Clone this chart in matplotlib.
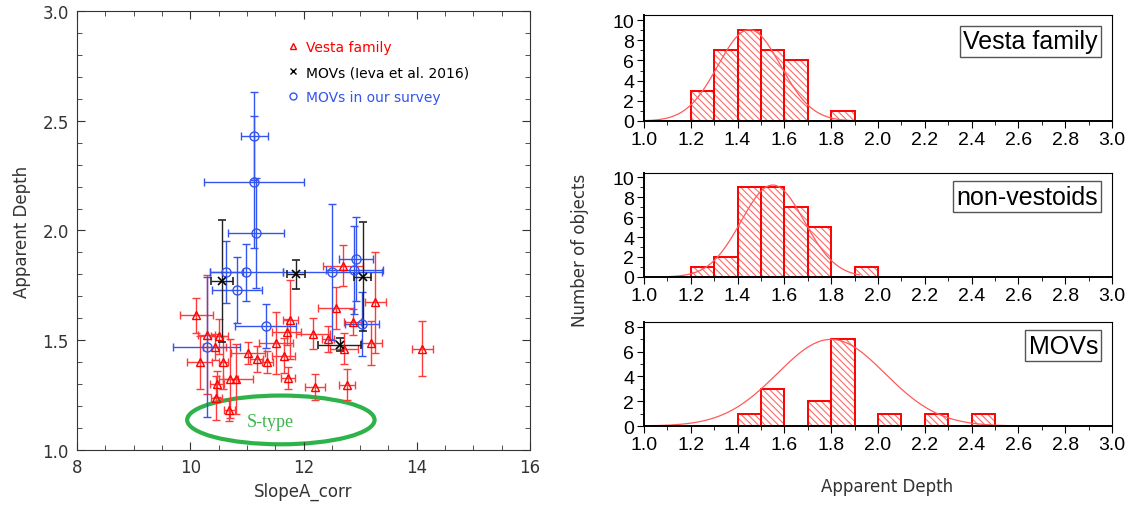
import numpy as np
import matplotlib.pyplot as plt
from matplotlib.patches import Ellipse
from matplotlib.lines import Line2D
from matplotlib.ticker import MultipleLocator, FormatStrFormatter

plt.rcParams['hatch.linewidth'] = 0.8

# ---- left panel: apparent depth vs corrected slope ----
vesta_x = [10.11, 10.29, 10.51, 10.43, 10.17, 10.58, 10.47, 10.71, 10.80, 10.46,
           10.69, 11.02, 11.17, 11.36, 11.52, 11.70, 11.77, 11.65, 11.73, 12.20,
           12.77, 12.16, 12.43, 12.58, 12.70, 12.87, 12.71, 13.20, 13.27, 14.10]
vesta_y = [1.613, 1.525, 1.519, 1.469, 1.400, 1.400, 1.300, 1.324, 1.324, 1.236,
           1.183, 1.443, 1.416, 1.400, 1.487, 1.537, 1.594, 1.430, 1.327, 1.286,
           1.297, 1.530, 1.507, 1.647, 1.839, 1.583, 1.461, 1.489, 1.674, 1.461]
vesta_xerr = [0.30, 0.15, 0.15, 0.20, 0.22, 0.08, 0.12, 0.14, 0.30, 0.10,
              0.10, 0.30, 0.12, 0.10, 0.30, 0.25, 0.14, 0.20, 0.12, 0.18,
              0.14, 0.30, 0.10, 0.32, 0.35, 0.15, 0.25, 0.18, 0.19, 0.18]
vesta_yerr = [0.08, 0.27, 0.08, 0.06, 0.12, 0.12, 0.06, 0.18, 0.16, 0.10,
              0.05, 0.05, 0.06, 0.05, 0.14, 0.06, 0.18, 0.08, 0.05, 0.06,
              0.07, 0.07, 0.06, 0.095, 0.093, 0.06, 0.07, 0.10, 0.23, 0.125]

ieva_x = [10.56, 11.87, 13.05, 12.64]
ieva_y = [1.77, 1.80, 1.79, 1.48]
ieva_xerr = [0.19, 0.16, 0.15, 0.38]
ieva_yerr = [0.28, 0.065, 0.25, 0.03]

our_x = [11.13, 11.12, 11.16, 10.64, 10.99, 10.83, 11.33, 10.29, 12.51, 12.90, 12.92, 13.04]
our_y = [2.43, 2.22, 1.99, 1.81, 1.81, 1.73, 1.565, 1.47, 1.81, 1.82, 1.87, 1.575]
our_xerr = [0.24, 0.88, 0.50, 0.30, 0.64, 0.44, 0.54, 0.59, 0.88, 0.50, 0.30, 0.30]
our_yerr = [0.20, 0.30, 0.25, 0.14, 0.13, 0.15, 0.10, 0.32, 0.31, 0.20, 0.19, 0.145]

# ---- right panels: histograms of apparent depth ----
vesta_bins = [1.2, 1.3, 1.4, 1.5, 1.6, 1.8]
vesta_counts = [3, 7, 9, 7, 6, 1]
nonv_bins = [1.2, 1.3, 1.4, 1.5, 1.6, 1.7, 1.9]
nonv_counts = [1, 2, 9, 9, 7, 5, 1]
mov_bins = [1.4, 1.5, 1.7, 1.8, 2.0, 2.2, 2.4]
mov_counts = [1, 3, 2, 7, 1, 1, 1]

# gaussian fits: amplitude, mean, sigma, curve start, curve end
vesta_fit = [9.05, 1.45, 0.134, 1.0, 1.92]
nonv_fit = [9.2, 1.55, 0.135, 1.1, 1.92]
mov_fit = [7.0, 1.80, 0.23, 1.0, 2.58]

RED = '#ff0000'
BLUE = '#3355ee'
GRAY = '#333333'

fig = plt.figure(figsize=(11.31, 5.06), dpi=100)

ax = fig.add_axes([0.0681, 0.1087, 0.4005, 0.8676])
ax.errorbar(vesta_x, vesta_y, xerr=vesta_xerr, yerr=vesta_yerr, fmt='^', ms=6,
            mfc='none', mec=RED, mew=1.0, ecolor='#ff3a3a', elinewidth=1.0,
            capsize=3, capthick=1.0)
ax.errorbar(our_x, our_y, xerr=our_xerr, yerr=our_yerr, fmt='o', ms=6.5,
            mfc='none', mec=BLUE, mew=1.0, ecolor=BLUE, elinewidth=1.0,
            capsize=3, capthick=1.0)
ax.errorbar(ieva_x, ieva_y, xerr=ieva_xerr, yerr=ieva_yerr, fmt='x', ms=6,
            mec='black', mew=1.2, ecolor='#222222', elinewidth=1.0,
            capsize=3, capthick=1.0)

ax.add_patch(Ellipse((11.6, 1.137), 3.31, 0.222, fill=False, ec='#2db34a', lw=3))
ax.text(11.42, 1.13, 'S-type', color='#3cb44b', fontsize=13,
        family='Liberation Serif', ha='center', va='center')

ax.set_xlim(8, 16)
ax.set_ylim(1.0, 3.0)
ax.xaxis.set_major_locator(MultipleLocator(2))
ax.xaxis.set_minor_locator(MultipleLocator(0.5))
ax.yaxis.set_major_locator(MultipleLocator(0.5))
ax.yaxis.set_minor_locator(MultipleLocator(0.1))
ax.yaxis.set_major_formatter(FormatStrFormatter('%.1f'))
ax.tick_params(which='both', direction='in', top=True, right=True,
               colors=GRAY, labelsize=12, pad=6)
ax.tick_params(which='major', length=6)
ax.tick_params(which='minor', length=3.5)
for s in ax.spines.values():
    s.set_color(GRAY)
ax.set_xlabel('SlopeA_corr', fontsize=12, color=GRAY, labelpad=4)
ax.set_ylabel('Apparent Depth', fontsize=12, color=GRAY, labelpad=8)

handles = [Line2D([], [], ls='none', marker='^', ms=5, mfc='none', mec=RED),
           Line2D([], [], ls='none', marker='x', ms=5, mec='black'),
           Line2D([], [], ls='none', marker='o', ms=5, mfc='none', mec=BLUE)]
ax.legend(handles, ['Vesta family', 'MOVs (Ieva et al. 2016)', 'MOVs in our survey'],
          loc='upper left', bbox_to_anchor=(0.437, 0.962), frameon=False,
          handlelength=0.8, handletextpad=0.5, labelspacing=0.78, fontsize=10,
          labelcolor=[RED, 'black', BLUE])


def draw_hist(rect, bins, counts, fit, name, ymax, label_y):
    hax = fig.add_axes(rect)
    # hatch in a lighter red, outline in full red on top
    hax.bar(bins, counts, width=0.1, align='edge', fill=False, edgecolor='#ff6a6a',
            linewidth=0, hatch='\\\\\\\\\\')
    hax.bar(bins, counts, width=0.1, align='edge', fill=False, edgecolor=RED,
            linewidth=1.4)
    amp, mu, sig, x0, x1 = fit
    xs = np.linspace(x0, x1, 200)
    hax.plot(xs, amp * np.exp(-(xs - mu) ** 2 / (2 * sig ** 2)),
             color='#ff5a5a', lw=0.9)
    hax.set_xlim(1.0, 3.0)
    hax.set_ylim(0, ymax)
    hax.xaxis.set_major_locator(MultipleLocator(0.2))
    hax.xaxis.set_minor_locator(MultipleLocator(0.1))
    hax.xaxis.set_major_formatter(FormatStrFormatter('%.1f'))
    hax.yaxis.set_major_locator(MultipleLocator(2))
    hax.yaxis.set_minor_locator(MultipleLocator(1))
    hax.tick_params(which='both', direction='out', labelsize=14, pad=2)
    hax.tick_params(which='major', length=5)
    hax.tick_params(which='minor', length=3)
    hax.spines['bottom'].set_linewidth(1.4)
    hax.spines['left'].set_linewidth(1.4)
    hax.text(0.97, label_y, name, transform=hax.transAxes, ha='right', va='top',
             fontsize=18, family='Liberation Sans',
             bbox=dict(boxstyle='square,pad=0.14', fc='white', ec='#555555', lw=1))
    for lab in hax.get_xticklabels() + hax.get_yticklabels():
        lab.set_family('Liberation Sans')
    return hax


draw_hist([0.5694, 0.7589, 0.4138, 0.2095], vesta_bins, vesta_counts, vesta_fit,
          'Vesta family', 10.5, 0.865)
draw_hist([0.5694, 0.4506, 0.4138, 0.2055], nonv_bins, nonv_counts, nonv_fit,
          'non-vestoids', 10.4, 0.885)
draw_hist([0.5694, 0.1561, 0.4138, 0.2055], mov_bins, mov_counts, mov_fit,
          'MOVs', 8.4, 0.885)

fig.text(0.513, 0.505, 'Number of objects', rotation=90, fontsize=12,
         color=GRAY, ha='center', va='center')
fig.text(0.784, 0.037, 'Apparent Depth', fontsize=12, color=GRAY,
         ha='center', va='center')

fig.savefig('out.png', dpi=100)
